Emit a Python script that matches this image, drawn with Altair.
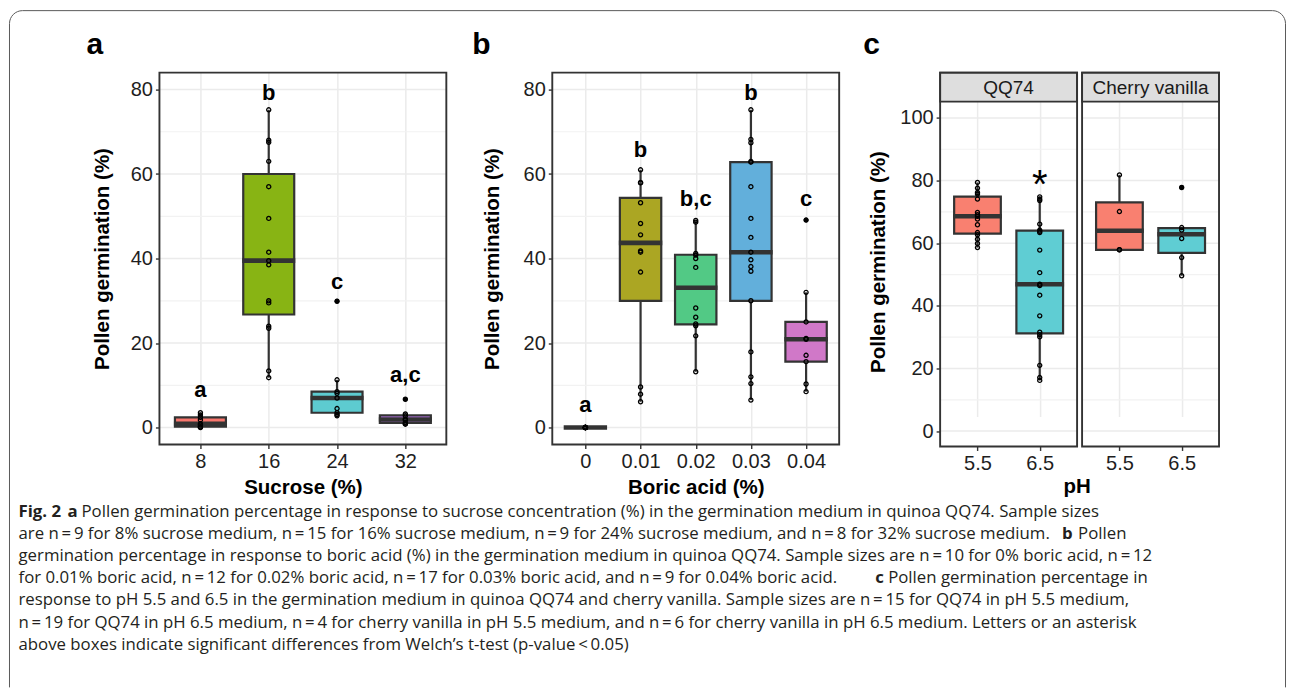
import altair as alt
import pandas as pd

FONT = "Liberation Sans"
CAPFONT = "Open Sans"
DARK = "#333333"

# ---------------- data ----------------
sucrose_levels = ["8", "16", "24", "32"]
sucrose_8 = [0.0, 0.1, 0.2, 0.6, 0.9, 1.8, 2.4, 3.0, 3.5]
sucrose_16 = [11.8, 13.4, 23.5, 24.0, 29.5, 30.0, 38.5, 39.5, 41.5, 49.5, 57.0, 63.0, 67.5, 68.0, 75.2]
sucrose_24 = [2.8, 3.1, 3.5, 4.5, 7.0, 8.1, 8.5, 11.3, 29.9]
sucrose_32 = [0.8, 0.9, 1.2, 1.8, 2.0, 2.8, 3.2, 6.7]
sucrose_letters = ["a", "b", "c", "a,c"]
sucrose_letter_y = [7.3, 77.4, 32.9, 10.8]
sucrose_colors = ["#F8766D", "#88B414", "#5DCBD0", "#C77CFF"]

boric_levels = ["0", "0.01", "0.02", "0.03", "0.04"]
boric_0 = [0, 0, 0, 0, 0, 0, 0, 0, 0, 0]
boric_001 = [6.1, 7.9, 9.6, 36.8, 41.5, 41.8, 45.6, 48.3, 53.2, 57.9, 58.0, 61.0]
boric_002 = [13.2, 21.7, 24.1, 24.5, 26.1, 28.3, 37.9, 40.0, 40.8, 41.2, 48.6, 49.0]
boric_003 = [6.5, 10.4, 12.0, 17.9, 30.0, 37.0, 38.1, 39.7, 41.5, 45.0, 49.5, 57.0, 62.8, 63.0, 67.4, 68.2, 75.2]
boric_004 = [8.5, 10.3, 15.6, 17.1, 20.9, 21.1, 25.0, 32.0, 49.1]
boric_letters = ["a", "b", "b,c", "b", "c"]
boric_letter_y = [3.7, 64.0, 52.5, 77.4, 52.5]
boric_colors = ["#F8766D", "#ABA623", "#52C985", "#62AFDB", "#D078C8"]

ph_levels = ["5.5", "6.5"]
strains = ["QQ74", "Cherry vanilla"]
qq74_ph55 = [58.6, 59.9, 61.3, 62.7, 63.4, 65.9, 67.7, 68.6, 69.1, 69.8, 74.1, 75.7, 76.2, 77.6, 79.4]
qq74_ph65 = [16.2, 17.1, 21.0, 30.1, 30.8, 31.6, 36.8, 43.4, 46.5, 46.9, 50.6, 57.8, 63.4, 63.8, 64.2, 66.1, 73.6, 74.1, 74.8]
cv_ph55 = [57.9, 57.9, 70.1, 81.8]
cv_ph65 = [49.6, 55.4, 61.5, 64.2, 65.0, 77.8]
ph_colors = ["#F98070", "#5FCDD3"]
qq74_marks = ["", "*"]
qq74_mark_y = [0, 74.3]

ticks_80 = [0, 20, 40, 60, 80]
minor_80 = [10, 30, 50, 70]
ticks_100 = [0, 20, 40, 60, 80, 100]
minor_100 = [10, 30, 50, 70, 90]

caption_segments = [
    ("Fig. 2", True),
    ("a", True),
    ("Pollen germination percentage in response to sucrose concentration (%) in the germination medium in quinoa QQ74. Sample sizes", False),
    ("are n\u2009=\u20099 for 8% sucrose medium, n\u2009=\u200915 for 16% sucrose medium, n\u2009=\u20099 for 24% sucrose medium, and n\u2009=\u20098 for 32% sucrose medium.", False),
    ("b", True),
    ("Pollen", False),
    ("germination percentage in response to boric acid (%) in the germination medium in quinoa QQ74. Sample sizes are n\u2009=\u200910 for 0% boric acid, n\u2009=\u200912", False),
    ("for 0.01% boric acid, n\u2009=\u200912 for 0.02% boric acid, n\u2009=\u200917 for 0.03% boric acid, and n\u2009=\u20099 for 0.04% boric acid.", False),
    ("c", True),
    ("Pollen germination percentage in", False),
    ("response to pH 5.5 and 6.5 in the germination medium in quinoa QQ74 and cherry vanilla. Sample sizes are n\u2009=\u200915 for QQ74 in pH 5.5 medium,", False),
    ("n\u2009=\u200919 for QQ74 in pH 6.5 medium, n\u2009=\u20094 for cherry vanilla in pH 5.5 medium, and n\u2009=\u20096 for cherry vanilla in pH 6.5 medium. Letters or an asterisk", False),
    ("above boxes indicate significant differences from Welch\u2019s t-test (p-value\u2009<\u20090.05)", False),
]
# layout: (line index, left x in px relative to panel a's plot origin)
caption_layout = [(0, -141), (0, -92), (0, -78), (1, -141), (1, 903), (1, 919), (2, -141),
                  (3, -141), (3, 716), (3, 729), (4, -141), (5, -141), (6, -141)]
caption_baselines = [444.7, 466.8, 488.9, 511.0, 533.1, 555.2, 577.3]


def long_df(levels, series):
    rows = []
    for lv, vals in zip(levels, series):
        for v in vals:
            rows.append({"grp": lv, "val": v})
    return pd.DataFrame(rows)


def one(text):
    return pd.DataFrame({"t": [text]})


def y_axis(title, tx, ty, ticks):
    return alt.Axis(values=ticks, grid=False, domain=False, ticks=True, tickColor=DARK,
                    tickSize=4, tickWidth=1.4, labelFont=FONT, labelFontSize=20,
                    labelColor="#1E1E1E", labelPadding=3, title=title, titleFont=FONT,
                    titleFontSize=20.5, titleFontWeight="bold", titleColor="black",
                    titleAngle=270, titleX=tx, titleY=ty, titleAlign="center",
                    titleBaseline="alphabetic")


def x_axis(title, tx, ty):
    kw = dict(labelAngle=0, grid=True, gridColor="#EBEBEB", gridWidth=1.5, domain=False,
              tickColor=DARK, tickSize=4, tickWidth=1.4, labelFont=FONT, labelFontSize=20,
              labelColor="#1E1E1E", labelPadding=3)
    if title:
        kw.update(title=title, titleFont=FONT, titleFontSize=20.5, titleFontWeight="bold",
                  titleColor="black", titleX=tx, titleY=ty, titleAlign="center",
                  titleBaseline="alphabetic")
    else:
        kw.update(title="")
    return alt.Axis(**kw)


def panel(df, levels, colors, pw, ph, ydom, yrange, ticks, minor, box_size,
          yax, xax, letters_df, label, label_x, strip=None, xtitle=None):
    xscale = alt.Scale(type="point", domain=levels, range=[0, pw], padding=0.6)
    yscale = alt.Scale(domain=ydom, range=yrange, nice=False, zero=False)

    minor_rules = alt.Chart(pd.DataFrame({"val": minor})).mark_rule(
        color="#F2F2F2", strokeWidth=1.2).encode(
        y=alt.Y("val:Q", scale=yscale, axis=yax), x=alt.value(0), x2=alt.value(pw))
    major_rules = alt.Chart(pd.DataFrame({"val": ticks})).mark_rule(
        color="#EBEBEB", strokeWidth=1.5).encode(
        y=alt.Y("val:Q", scale=yscale, axis=yax), x=alt.value(0), x2=alt.value(pw))

    box = alt.Chart(df).mark_boxplot(
        extent=1.5, size=box_size, ticks=False, outliers=False, median=False,
        box={"stroke": DARK, "strokeWidth": 2.2, "opacity": 1},
        rule={"color": DARK, "strokeWidth": 2.2, "opacity": 1},
    ).encode(
        x=alt.X("grp:N", scale=xscale, axis=xax),
        y=alt.Y("val:Q", scale=yscale, axis=yax),
        color=alt.Color("grp:N", scale=alt.Scale(domain=levels, range=colors), legend=None),
    )
    med = alt.Chart(df).transform_aggregate(
        val="median(val)", groupby=["grp"]
    ).mark_tick(color=DARK, thickness=4.6, size=box_size + 2, opacity=1,
                orient="horizontal").encode(
        x=alt.X("grp:N", scale=xscale, axis=xax),
        y=alt.Y("val:Q", scale=yscale, axis=yax),
    )
    outl = alt.Chart(df).transform_joinaggregate(
        q1="q1(val)", q3="q3(val)", groupby=["grp"]
    ).transform_filter(
        "datum.val > datum.q3 + 1.5 * (datum.q3 - datum.q1) || "
        "datum.val < datum.q1 - 1.5 * (datum.q3 - datum.q1)"
    ).mark_circle(color="black", size=22, opacity=1).encode(
        x=alt.X("grp:N", scale=xscale, axis=xax),
        y=alt.Y("val:Q", scale=yscale, axis=yax),
    )
    pts = alt.Chart(df).mark_point(shape="circle", filled=False, color="black",
                                   strokeWidth=1.3, size=17, opacity=1).encode(
        x=alt.X("grp:N", scale=xscale, axis=xax),
        y=alt.Y("val:Q", scale=yscale, axis=yax),
    )
    layers = [minor_rules, major_rules, box, med, outl, pts]
    if letters_df is not None:
        is_star = letters_df["lab"].eq("*").any()
        txt = alt.Chart(letters_df).mark_text(
            font=FONT, fontSize=40 if is_star else 22,
            fontWeight="normal" if is_star else "bold",
            baseline="alphabetic", align="center", color="black").encode(
            x=alt.X("grp:N", scale=xscale, axis=xax),
            y=alt.Y("val:Q", scale=yscale, axis=yax),
            text="lab:N")
        layers.append(txt)
    if strip is not None:
        layers.append(alt.Chart(one(strip)).mark_rect(
            fill="#DEDEDE", stroke=DARK, strokeWidth=1.8).encode(
            x=alt.value(0), x2=alt.value(pw), y=alt.value(0), y2=alt.value(29)))
        layers.append(alt.Chart(one(strip)).mark_text(
            font=FONT, fontSize=19, color="#1A1A1A", baseline="alphabetic",
            align="center").encode(x=alt.value(pw / 2), y=alt.value(21.5), text="t:N"))
    layers.append(alt.Chart(one("border")).mark_rect(
        filled=False, stroke=DARK, strokeWidth=1.9).encode(
        x=alt.value(0), x2=alt.value(pw), y=alt.value(0), y2=alt.value(ph)))
    if label:
        layers.append(alt.Chart(one(label)).mark_text(
            font=FONT, fontSize=30, fontWeight="bold", color="black", align="left",
            baseline="alphabetic").encode(x=alt.value(label_x), y=alt.value(-19), text="t:N"))
    if xtitle:
        txt, tx, ty = xtitle
        layers.append(alt.Chart(one(txt)).mark_text(
            font=FONT, fontSize=20.5, fontWeight="bold", color="black", align="center",
            baseline="alphabetic").encode(x=alt.value(tx), y=alt.value(ty), text="t:N"))
    return layers


# ---------------- panel a ----------------
df_a = long_df(sucrose_levels, [sucrose_8, sucrose_16, sucrose_24, sucrose_32])
let_a = pd.DataFrame({"grp": sucrose_levels, "val": sucrose_letter_y, "lab": sucrose_letters})
layers_a = panel(df_a, sucrose_levels, sucrose_colors, 287, 372, [-4, 84], [372, 0],
                 ticks_80, minor_80, 51,
                 y_axis("Pollen germination (%)", -51, 186, ticks_80),
                 x_axis("Sucrose (%)", 143.5, 49), let_a, "a", -73)

# caption + outer frame live in panel a's layer (flush layout ignores them)
for (text, bold), (line, xpos) in zip(caption_segments, caption_layout):
    layers_a.append(alt.Chart(one(text)).mark_text(
        font=CAPFONT, fontSize=16.8, fontWeight="bold" if bold else "normal",
        color="#231F20", align="left", baseline="alphabetic").encode(
        x=alt.value(xpos), y=alt.value(caption_baselines[line]), text="t:N"))
FRAME = "#5A5A5A"
layers_a.append(alt.Chart(one("frame")).mark_rect(
    filled=False, stroke=FRAME, strokeWidth=1, cornerRadius=13).encode(
    x=alt.value(-150), x2=alt.value(1126.5), y=alt.value(-62), y2=alt.value(614)))
# white strip hiding the lower edge of the frame (the frame runs on past the picture)
layers_a.append(alt.Chart(one("cover")).mark_rect(fill="white", strokeWidth=0).encode(
    x=alt.value(-151), x2=alt.value(1127.5), y=alt.value(598), y2=alt.value(615)))
layers_a.append(alt.Chart(one("left")).mark_rule(color=FRAME, strokeWidth=1).encode(
    x=alt.value(-150), y=alt.value(596), y2=alt.value(615)))
layers_a.append(alt.Chart(one("right")).mark_rule(color=FRAME, strokeWidth=1).encode(
    x=alt.value(1126.5), y=alt.value(596), y2=alt.value(615)))

chart_a = alt.layer(*layers_a).properties(width=388, height=372)

# ---------------- panel b ----------------
df_b = long_df(boric_levels, [boric_0, boric_001, boric_002, boric_003, boric_004])
let_b = pd.DataFrame({"grp": boric_levels, "val": boric_letter_y, "lab": boric_letters})
layers_b = panel(df_b, boric_levels, boric_colors, 287, 372, [-4, 84], [372, 0],
                 ticks_80, minor_80, 41.4,
                 y_axis("Pollen germination (%)", -54, 186, ticks_80),
                 x_axis("Boric acid (%)", 143.5, 49), let_b, "b", -80)
chart_b = alt.layer(*layers_b).properties(width=383, height=372)

# ---------------- panel c ----------------
df_c1 = long_df(ph_levels, [qq74_ph55, qq74_ph65])
df_c2 = long_df(ph_levels, [cv_ph55, cv_ph65])
let_c = pd.DataFrame({"grp": ph_levels, "val": qq74_mark_y, "lab": qq74_marks})
layers_c1 = panel(df_c1, ph_levels, ph_colors, 137, 374, [-4.9, 104.9], [374, 30],
                  ticks_100, minor_100, 46.7,
                  y_axis("Pollen germination (%)", -56, 189, ticks_100),
                  x_axis(None, 0, 0), let_c, "c", -77, strip=strains[0])
chart_c1 = alt.layer(*layers_c1).properties(width=137, height=374)

layers_c2 = panel(df_c2, ph_levels, ph_colors, 137, 374, [-4.9, 104.9], [374, 30],
                  ticks_100, minor_100, 46.7, None,
                  x_axis(None, 0, 0), None, None, 0, strip=strains[1],
                  xtitle=("pH", -5, 421))
chart_c2 = alt.layer(*layers_c2).properties(width=137, height=374)

chart = alt.hconcat(chart_a, chart_b, chart_c1, chart_c2, spacing=5, bounds="flush").resolve_scale(
    color="independent"
).properties(
    padding={"left": 0.5, "top": 1.5, "right": 0, "bottom": 0}
).configure(font=FONT).configure_view(strokeWidth=0)

chart.save("out.html", embed_options={"renderer": "svg", "actions": False})
